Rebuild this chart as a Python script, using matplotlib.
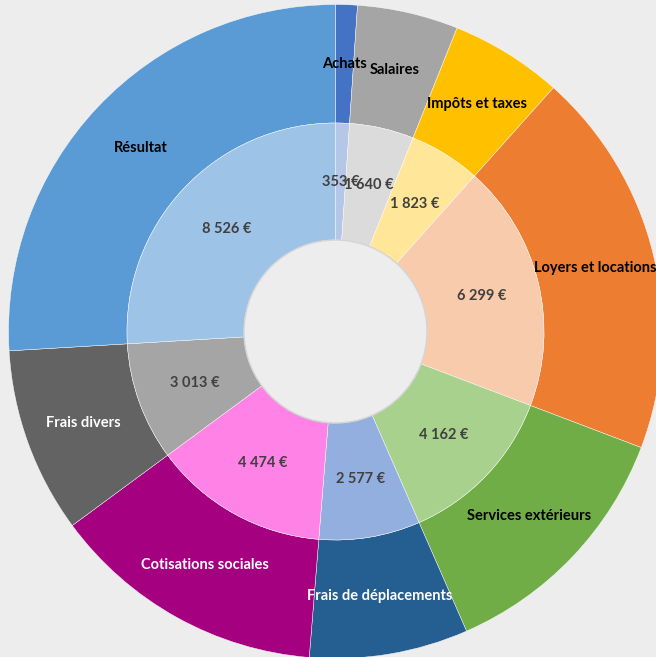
import matplotlib.pyplot as plt
from matplotlib.patches import Circle

# Data
categories = ['Achats', 'Salaires', 'Impôts et taxes', 'Loyers et locations',
              'Services extérieurs', 'Frais de déplacements', 'Cotisations sociales',
              'Frais divers', 'Résultat']
amounts = [353, 1640, 1823, 6299, 4162, 2577, 4474, 3013, 8526]
value_labels = ['353 €', '1 640 €', '1 823 €', '6 299 €', '4 162 €',
                '2 577 €', '4 474 €', '3 013 €', '8 526 €']

outer_colors = ['#4472C4', '#A5A5A5', '#FFC000', '#ED7D31', '#70AD47',
                '#255E91', '#A5007F', '#636363', '#5B9BD5']
inner_colors = ['#B4C7E7', '#DBDBDB', '#FFE699', '#F8CBAD', '#A9D18E',
                '#93AFDF', '#FF82E6', '#A5A5A5', '#9DC3E6']
outer_text_colors = ['black', 'black', 'black', 'black', 'black',
                     'white', 'white', 'white', 'black']

BG = '#EDEDED'
R_OUT = 327.0    # outer radius (pixels)
R_MID = 208.5    # boundary between the rings
R_HOLE = 91.5    # hole radius
CX, CY = 335.5, 325.5  # centre in pixel coords (from bottom-left)
FS = 10.5

fig = plt.figure(figsize=(6.56, 6.57), dpi=100, facecolor=BG)
ax = fig.add_axes([0, 0, 1, 1])
ax.set_facecolor(BG)

outer_wedges, outer_texts = ax.pie(
    amounts, radius=R_OUT, colors=outer_colors, startangle=90, counterclock=False,
    labels=categories, labeldistance=(R_OUT + R_MID) / 2 / R_OUT,
    wedgeprops=dict(width=R_OUT - R_MID, edgecolor='white', linewidth=0.3),
    textprops=dict(family='Lato', weight='bold', fontsize=FS))

inner_wedges, inner_texts = ax.pie(
    amounts, radius=R_MID, colors=inner_colors, startangle=90, counterclock=False,
    labels=value_labels, labeldistance=(R_MID + R_HOLE) / 2 / R_MID,
    wedgeprops=dict(width=R_MID - R_HOLE, edgecolor='white', linewidth=0.3),
    textprops=dict(family='Lato', weight='bold', fontsize=FS, color='#404040'))

for t, c in zip(outer_texts, outer_text_colors):
    t.set_ha('center')
    t.set_va('center')
    t.set_color(c)
for t in inner_texts:
    t.set_ha('center')
    t.set_va('center')

# soft shadow around the hole
ax.add_patch(Circle((0, 0), R_HOLE, facecolor=BG, edgecolor='#d4d4d4', linewidth=1.0, zorder=3))

ax.set_xlim(-CX, 656 - CX)
ax.set_ylim(-CY, 657 - CY)
ax.set_aspect('equal')
ax.axis('off')

fig.savefig('out.png', dpi=100, facecolor=BG)
